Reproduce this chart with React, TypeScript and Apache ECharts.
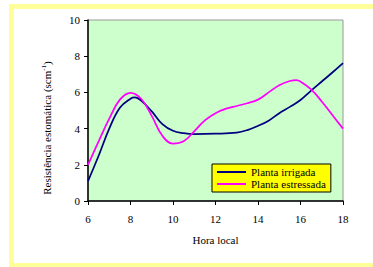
import React, { useEffect, useRef } from "react";
import * as echarts from "echarts";

const hoursIrrigada = [6, 6.5, 7, 7.5, 8, 8.2, 8.5, 9, 9.5, 10, 10.5, 11, 12, 13, 13.5, 14, 14.5, 15, 15.5, 16, 16.5, 17, 17.5, 18];
const valuesIrrigada = [1.1, 2.5, 4.0, 5.15, 5.65, 5.72, 5.55, 4.95, 4.25, 3.88, 3.75, 3.7, 3.72, 3.78, 3.92, 4.15, 4.44, 4.85, 5.2, 5.58, 6.1, 6.6, 7.1, 7.62];

const hoursEstressada = [6, 6.5, 7, 7.5, 8, 8.5, 9, 9.5, 10, 10.5, 11, 11.5, 12, 12.5, 13, 13.5, 14, 14.5, 15, 15.5, 15.8, 16, 16.5, 17, 17.5, 18];
const valuesEstressada = [2.0, 3.3, 4.55, 5.6, 5.98, 5.65, 4.7, 3.6, 3.17, 3.3, 3.85, 4.45, 4.85, 5.1, 5.25, 5.4, 5.6, 6.0, 6.4, 6.63, 6.68, 6.6, 6.17, 5.5, 4.75, 4.0];

const seriesNames = ["Planta irrigada", "Planta estressada"];
const xTitle = "Hora local";
const yTitle = "Resistência estomática (scm{sup|-1})";

export default function App() {
  const ref = useRef<HTMLDivElement>(null);
  useEffect(() => {
    document.body.style.margin = "0";
    const chart = echarts.init(ref.current!, null, { renderer: "svg" });
    const font = "Liberation Serif";
    chart.setOption({
      animation: false,
      backgroundColor: "#ffffff",
      textStyle: { fontFamily: font },
      grid: {
        left: 88,
        top: 20,
        right: 30,
        bottom: 66,
        show: true,
        backgroundColor: "#CCFFCC",
        borderColor: "#999999",
        borderWidth: 1,
      },
      xAxis: {
        type: "value",
        min: 6,
        max: 18,
        interval: 2,
        name: xTitle,
        nameLocation: "middle",
        nameGap: 33,
        nameTextStyle: { color: "#000", fontSize: 11, fontFamily: font },
        axisLine: { show: true, onZero: false, lineStyle: { color: "#000", width: 1.5 } },
        axisTick: { show: true, length: 4, lineStyle: { color: "#000" } },
        axisLabel: { color: "#000", fontSize: 11, margin: 12, fontFamily: font },
        splitLine: { show: false },
      },
      yAxis: {
        type: "value",
        min: 0,
        max: 10,
        interval: 2,
        axisLine: { show: true, lineStyle: { color: "#000", width: 1.5 } },
        axisTick: { show: true, length: 4, lineStyle: { color: "#000" } },
        axisLabel: { color: "#000", fontSize: 11, margin: 8, fontFamily: font },
        splitLine: { show: false },
      },
      legend: {
        orient: "vertical",
        left: 212,
        top: 164,
        padding: [2, 5, 2, 5],
        itemGap: 0,
        itemWidth: 29,
        itemHeight: 2,
        icon: "rect",
        backgroundColor: "#FFFF00",
        borderColor: "#000",
        borderWidth: 1,
        borderRadius: 0,
        textStyle: { color: "#000", fontSize: 11, fontFamily: font, lineHeight: 12 },
        data: seriesNames,
      },
      graphic: [
        {
          type: "rect",
          shape: { x: 11.5, y: 6.5, width: 380, height: 259 },
          style: { fill: "none", stroke: "#FFFF99", lineWidth: 5 },
          silent: true,
        },
        {
          type: "text",
          x: 47,
          y: 128,
          rotation: Math.PI / 2,
          style: {
            text: yTitle,
            fill: "#000",
            fontSize: 11,
            fontFamily: font,
            align: "center",
            verticalAlign: "middle",
            rich: {
              sup: { fontSize: 7, verticalAlign: "top", padding: [0, 0, 6, 0], fontFamily: font, fill: "#000" },
            },
          },
        },
      ],
      series: [
        {
          name: seriesNames[0],
          type: "line",
          smooth: 0.4,
          symbol: "none",
          lineStyle: { color: "#000080", width: 1.75 },
          itemStyle: { color: "#000080" },
          data: hoursIrrigada.map((h, i) => [h, valuesIrrigada[i]]),
        },
        {
          name: seriesNames[1],
          type: "line",
          smooth: 0.4,
          symbol: "none",
          lineStyle: { color: "#FF00FF", width: 1.75 },
          itemStyle: { color: "#FF00FF" },
          data: hoursEstressada.map((h, i) => [h, valuesEstressada[i]]),
        },
      ],
    });
    return () => chart.dispose();
  }, []);
  return <div ref={ref} style={{ position: "fixed", left: 0, top: 0, width: 373, height: 267 }} />;
}
